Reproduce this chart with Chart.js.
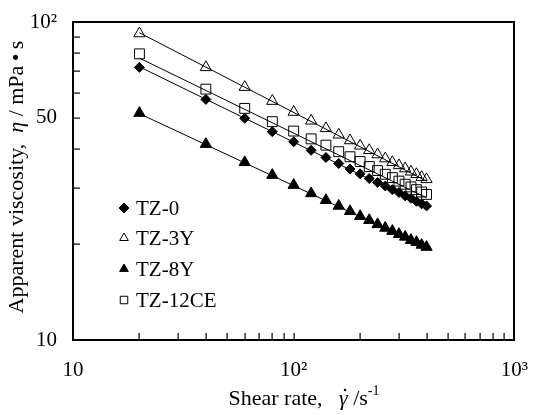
<!DOCTYPE html>
<html>
<head>
<meta charset="utf-8">
<script src="https://cdn.jsdelivr.net/npm/chart.js@4.4.0/dist/chart.umd.min.js"></script>
<style>
  body { margin: 0; background: #fff; }
  canvas { display: block; }
</style>
</head>
<body>
<canvas id="viscChart" width="538" height="415"></canvas>
<script>
// shear rate (1/s) and apparent viscosity (mPa s)
var shearRate = [20, 40, 60, 80, 100, 120, 140, 160, 180, 200, 220, 240, 260, 280, 300, 320, 340, 360, 380, 400];
var tz0 = [72.0, 57.1, 49.8, 45.2, 42.0, 39.5, 37.5, 35.9, 34.5, 33.3, 32.2, 31.3, 30.5, 29.7, 29.1, 28.4, 27.9, 27.3, 26.8, 26.4];
var tz3y = [92.0, 72.0, 62.4, 56.4, 52.1, 48.9, 46.3, 44.2, 42.4, 40.8, 39.5, 38.3, 37.2, 36.2, 35.4, 34.6, 33.8, 33.2, 32.5, 32.0];
var tz8y = [51.7, 41.3, 36.2, 33.0, 30.7, 28.9, 27.5, 26.4, 25.4, 24.5, 23.8, 23.1, 22.5, 22.0, 21.5, 21.1, 20.6, 20.3, 19.9, 19.6];
var tz12ce = [79.4, 61.5, 53.5, 48.6, 45.4, 42.9, 41.0, 39.1, 37.7, 36.4, 35.1, 34.1, 33.2, 32.4, 31.6, 30.9, 30.3, 29.7, 29.2, 28.7];

// power-law fit lines, end points
var fitRate = [20, 400];
var fitTz0 = [72.3, 26.2];
var fitTz3y = [92.5, 31.6];
var fitTz8y = [51.5, 19.5];
var fitTz12ce = [77.0, 28.0];

var xTickValues = [10, 100, 1000];
var xTickText = ['10', '10\u00b2', '10\u00b3'];
var yTickValues = [10, 50, 100];
var yTickText = ['10', '50', '10\u00b2'];

var seriesNames = ['TZ-0', 'TZ-3Y', 'TZ-8Y', 'TZ-12CE'];

var FONT = "'Liberation Serif', 'Times New Roman', serif";
Chart.defaults.font.family = FONT;
Chart.defaults.color = '#000';

function toPoints(xs, ys) {
  return xs.map(function(x, i) { return { x: x, y: ys[i] }; });
}

function markerSet(label, values, style, radius, fill) {
  return {
    type: 'scatter',
    label: label,
    data: toPoints(shearRate, values),
    pointStyle: style,
    pointRadius: radius,
    pointHoverRadius: radius,
    pointBackgroundColor: fill,
    pointBorderColor: '#000',
    pointBorderWidth: 1,
    showLine: false
  };
}

function fitLine(values) {
  return {
    type: 'line',
    label: 'fit',
    data: toPoints(fitRate, values),
    borderColor: '#000',
    borderWidth: 1,
    pointRadius: 0,
    fill: false
  };
}

// log tick values between min and max (1..9 per decade)
function logTickValues(min, max) {
  var out = [];
  for (var d = min; d < max; d *= 10) {
    for (var m = 1; m <= 9; m++) out.push(d * m);
  }
  out.push(max);
  return out;
}

// small marker drawer for the legend only
function drawMarker(ctx, style, x, y, r, filled) {
  ctx.beginPath();
  if (style === 'diamond') {
    ctx.moveTo(x, y - r); ctx.lineTo(x + r, y); ctx.lineTo(x, y + r); ctx.lineTo(x - r, y);
  } else if (style === 'triangle') {
    ctx.moveTo(x, y - r); ctx.lineTo(x + r * 0.87, y + r * 0.5); ctx.lineTo(x - r * 0.87, y + r * 0.5);
  } else {
    ctx.rect(x - r * 0.75, y - r * 0.75, r * 1.5, r * 1.5);
  }
  ctx.closePath();
  if (filled) { ctx.fillStyle = '#000'; ctx.fill(); }
  ctx.lineWidth = 1;
  ctx.strokeStyle = '#000';
  ctx.stroke();
}

function drawPieces(ctx, pieces, cx, cy) {
  var total = 0;
  pieces.forEach(function(p) { ctx.font = p.font; total += ctx.measureText(p.text).width; });
  var x = cx - total / 2;
  pieces.forEach(function(p) {
    ctx.font = p.font;
    ctx.fillText(p.text, x, cy + (p.dy || 0));
    if (p.dot) {
      ctx.beginPath();
      ctx.arc(x + p.dotDx, cy - 9, 1.3, 0, Math.PI * 2);
      ctx.fill();
    }
    x += ctx.measureText(p.text).width;
  });
}

var frameAndLabels = {
  id: 'frameAndLabels',
  afterDraw: function(chart) {
    var ctx = chart.ctx;
    var a = chart.chartArea;
    var xs = chart.scales.x;
    var ys = chart.scales.y;
    var l = Math.round(a.left), r = Math.round(a.right);
    var t = Math.round(a.top), b = Math.round(a.bottom);
    ctx.save();
    ctx.setLineDash([]);
    ctx.globalAlpha = 1;
    ctx.fillStyle = '#000';

    // frame as thin filled bars
    ctx.fillRect(l - 1, t - 1, r - l + 2, 2);
    ctx.fillRect(l - 1, b - 1, r - l + 2, 2);
    ctx.fillRect(l - 1, t - 1, 2, b - t + 2);
    ctx.fillRect(r - 1, t - 1, 2, b - t + 2);

    // inward ticks
    logTickValues(10, 1000).forEach(function(v) {
      var px = Math.round(xs.getPixelForValue(v));
      if (!(px > l + 1 && px < r - 1)) return;
      ctx.fillRect(px - 0.5, b - 7, 1.2, 7);
    });
    logTickValues(10, 100).forEach(function(v) {
      var py = Math.round(ys.getPixelForValue(v));
      if (!(py > t + 1 && py < b - 1)) return;
      ctx.fillRect(l, py - 0.5, 7, 1.2);
    });

    // axis titles
    ctx.textBaseline = 'middle';
    ctx.textAlign = 'left';
    drawPieces(ctx, [
      { text: 'Shear rate,   ', font: '22px ' + FONT },
      { text: '\u03b3', font: 'italic 22px ' + FONT, dot: true, dotDx: 6 },
      { text: ' /s', font: '22px ' + FONT },
      { text: '-1', font: '14px ' + FONT, dy: -8 }
    ], 304, 399);

    ctx.save();
    ctx.translate(17, 177);
    ctx.rotate(-Math.PI / 2);
    drawPieces(ctx, [
      { text: 'Apparent viscosity,  ', font: '22px ' + FONT },
      { text: '\u03b7', font: 'italic 22px ' + FONT },
      { text: ' / mPa\u2009\u2022\u2009s', font: '22px ' + FONT }
    ], 0, 0);
    ctx.restore();

    // legend
    var styles = ['diamond', 'triangle', 'triangle', 'square'];
    var filled = [true, false, true, false];
    var rowY = [208, 238, 269, 300];
    ctx.font = '21px ' + FONT;
    seriesNames.forEach(function(name, i) {
      drawMarker(ctx, styles[i], 124, rowY[i], 5, filled[i]);
      ctx.fillStyle = '#000';
      ctx.fillText(name, 136, rowY[i] + 1);
    });
    ctx.restore();
  }
};

var ctx = document.getElementById('viscChart').getContext('2d');
var viscChart = new Chart(ctx, {
  data: {
    datasets: [
      markerSet('TZ-0', tz0, 'rectRot', 5, '#000'),
      markerSet('TZ-3Y', tz3y, 'triangle', 6.5, 'rgba(0,0,0,0)'),
      markerSet('TZ-8Y', tz8y, 'triangle', 6.5, '#000'),
      markerSet('TZ-12CE', tz12ce, 'rect', 7, 'rgba(0,0,0,0)'),
      fitLine(fitTz0),
      fitLine(fitTz3y),
      fitLine(fitTz8y),
      fitLine(fitTz12ce)
    ]
  },
  options: {
    responsive: false,
    animation: false,
    layout: {
      padding: { top: 22, right: 23, left: 0, bottom: 0 }
    },
    plugins: {
      legend: { display: false },
      tooltip: { enabled: false }
    },
    scales: {
      x: {
        type: 'logarithmic',
        min: 10,
        max: 1000,
        grid: { display: false },
        border: { display: false },
        ticks: {
          autoSkip: false,
          maxRotation: 0,
          padding: 10,
          font: { size: 21 },
          callback: function(v) {
            var i = xTickValues.indexOf(v);
            return i < 0 ? '' : xTickText[i];
          }
        },
        afterFit: function(s) { s.height = 75; }
      },
      y: {
        type: 'logarithmic',
        min: 10,
        max: 100,
        grid: { display: false },
        border: { display: false },
        ticks: {
          autoSkip: false,
          padding: 8,
          font: { size: 21 },
          callback: function(v) {
            var i = yTickValues.indexOf(v);
            return i < 0 ? '' : yTickText[i];
          }
        },
        afterFit: function(s) { s.width = 73; }
      }
    }
  },
  plugins: [frameAndLabels]
});
</script>
</body>
</html>
